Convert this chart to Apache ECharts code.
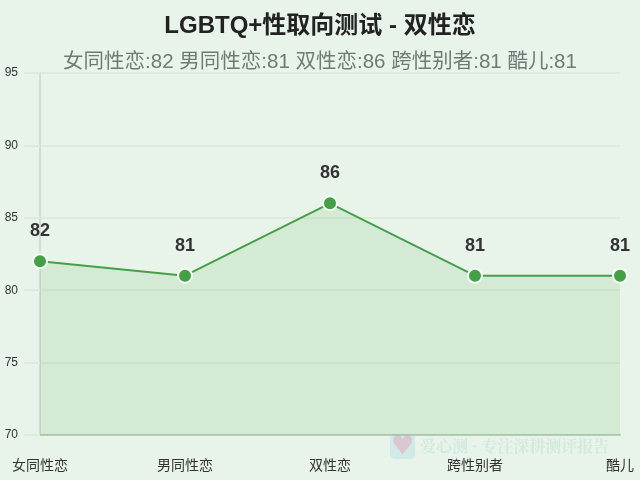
<!DOCTYPE html>
<html><head><meta charset="utf-8">
<style>html,body{margin:0;padding:0;width:640px;height:480px;overflow:hidden}#c{width:640px;height:480px}</style>
<script src="https://cdn.jsdelivr.net/npm/echarts@6/dist/echarts.min.js"></script>
</head><body><div id="c"></div>
<script>
var categories = ['女同性恋','男同性恋','双性恋','跨性别者','酷儿'];
var values = [82,81,86,81,81];
var titleText = 'LGBTQ+性取向测试 - 双性恋';
var subtitleText = '女同性恋:82 男同性恋:81 双性恋:86 跨性别者:81 酷儿:81';
var watermarkText = '爱心测 · 专注深耕测评报告';
var fam = '"Liberation Sans","Noto Sans CJK SC",sans-serif';
var chart = echarts.init(document.getElementById('c'), null, {renderer:'canvas'});
chart.setOption({
  animation:false,
  backgroundColor:'#e8f4e9',
  title:{text:titleText,subtext:subtitleText,left:'center',top:9,itemGap:14,
    textStyle:{fontSize:24,fontWeight:'bold',color:'#222222',fontFamily:fam},
    subtextStyle:{fontSize:20.5,color:'#6f7b72',fontFamily:fam}},
  grid:{left:40,right:20,top:73,bottom:45,containLabel:false},
  xAxis:{type:'category',data:categories,boundaryGap:false,
    axisLine:{lineStyle:{color:'#b5cfb8',width:2}},axisTick:{show:false},
    axisLabel:{fontSize:14,color:'#333333',margin:24,fontFamily:fam,interval:0,hideOverlap:false},
    splitLine:{show:false}},
  yAxis:{type:'value',min:70,max:95,interval:5,
    axisLine:{show:true,lineStyle:{color:'#cfdfd1',width:2}},
    axisTick:{show:true,length:16,lineStyle:{color:'#dcebdd',width:2}},
    axisLabel:{fontSize:12,color:'#333333',margin:22,padding:[2,0,0,0],fontFamily:fam},
    splitLine:{show:true,lineStyle:{color:'#dcebdd',width:2}}},
  series:[{type:'line',data:values,symbol:'circle',symbolSize:14,showSymbol:true,
    lineStyle:{color:'#43a047',width:2},
    itemStyle:{color:'#43a047',borderColor:'#f4faf4',borderWidth:2},
    areaStyle:{color:'rgba(67,160,71,0.17)'},
    label:{show:true,position:'top',distance:13,fontSize:18,fontWeight:'bold',color:'#333333',fontFamily:fam}}],
  graphic:[
    {type:'rect',left:390,top:434,shape:{width:25,height:25,r:5},style:{fill:'rgba(120,200,225,0.22)'},z:10},
    {type:'text',left:391,top:434,style:{text:'♥',font:'26px "DejaVu Sans"',fill:'rgba(240,130,160,0.35)'},z:11},
    {type:'text',left:420,top:438,style:{text:watermarkText,font:'bold 16px "Noto Serif CJK SC","Noto Sans CJK SC",serif',fill:'rgba(120,190,180,0.2)'},z:11}
  ]
});
</script></body></html>
